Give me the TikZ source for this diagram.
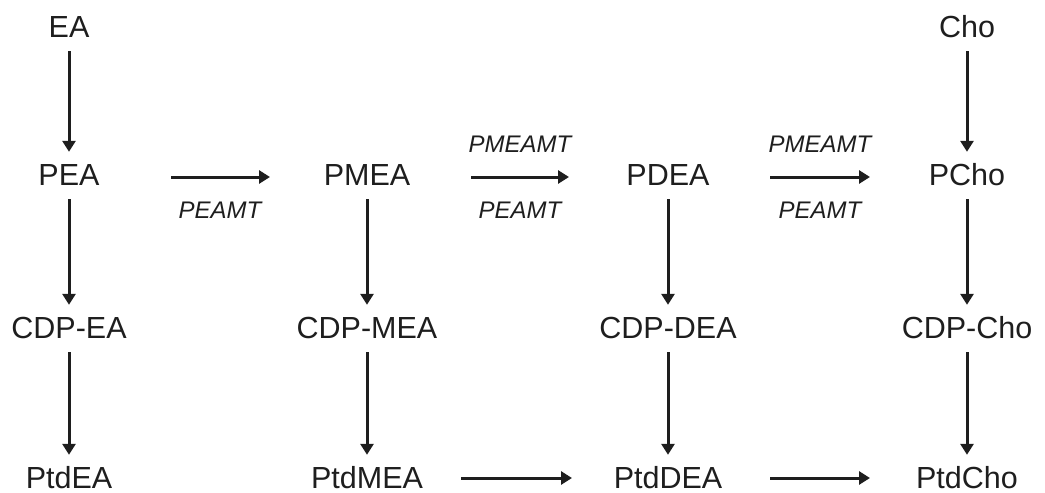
\documentclass[tikz,border=0pt]{standalone}
\usepackage{fontspec}
\setmainfont{Liberation Sans}
\usetikzlibrary{arrows.meta}
\definecolor{ink}{HTML}{1E1E1E}
\tikzset{
  x=1pt, y=-1pt,
  met/.style={anchor=base, inner xsep=0pt, inner ysep=11pt, text height=22pt, text depth=0pt,
              font=\fontsize{30.5}{36}\selectfont, text=ink},
  lab/.style={anchor=base, inner sep=0pt, font=\fontsize{24}{28}\selectfont\itshape, text=ink},
  arr/.style={draw=ink, line width=3pt, -{Triangle[length=11pt,width=13pt]}},
  varr/.style={arr, shorten <=3pt},
  harr/.style={arr, shorten <=102pt, shorten >=97pt},
}
\begin{document}
\begin{tikzpicture}
\useasboundingbox (0,0) rectangle (1045,493);
% nodes
\node[met] (EA)     at (69,37)   {EA};
\node[met] (PEA)    at (69,185)  {PEA};
\node[met] (CDPEA)  at (69,338)  {CDP-EA};
\node[met] (PtdEA)  at (69,488)  {PtdEA};
\node[met] (PMEA)   at (367,185) {PMEA};
\node[met] (CDPMEA) at (367,338) {CDP-MEA};
\node[met] (PtdMEA) at (367,488) {PtdMEA};
\node[met] (PDEA)   at (668,185) {PDEA};
\node[met] (CDPDEA) at (668,338) {CDP-DEA};
\node[met] (PtdDEA) at (668,488) {PtdDEA};
\node[met] (Cho)    at (967,37)  {Cho};
\node[met] (PCho)   at (967,185) {PCho};
\node[met] (CDPCho) at (967,338) {CDP-Cho};
\node[met] (PtdCho) at (967,488) {PtdCho};
% enzyme labels
\node[lab] (l1b) at (220,218) {PEAMT};
\node[lab] (l2a) at (520,152) {PMEAMT};
\node[lab] (l2b) at (520,218) {PEAMT};
\node[lab] (l3a) at (820,152) {PMEAMT};
\node[lab] (l3b) at (820,218) {PEAMT};
% vertical arrows
\draw[varr] (EA.south) -- (PEA.north);
\draw[varr] (PEA.south) -- (CDPEA.north);
\draw[varr] (CDPEA.south) -- (PtdEA.north);
\draw[varr] (PMEA.south) -- (CDPMEA.north);
\draw[varr] (CDPMEA.south) -- (PtdMEA.north);
\draw[varr] (PDEA.south) -- (CDPDEA.north);
\draw[varr] (CDPDEA.south) -- (PtdDEA.north);
\draw[varr] (Cho.south) -- (PCho.north);
\draw[varr] (PCho.south) -- (CDPCho.north);
\draw[varr] (CDPCho.south) -- (PtdCho.north);
% horizontal arrows
\draw[harr] ([yshift=-3pt]PEA.center) -- ([yshift=-3pt]PMEA.center);
\draw[harr, shorten <=104pt, shorten >=99pt] ([yshift=-3pt]PMEA.center) -- ([yshift=-3pt]PDEA.center);
\draw[harr] ([yshift=-3pt]PDEA.center) -- ([yshift=-3pt]PCho.center);
\draw[harr, shorten <=94pt, shorten >=96pt] ([yshift=-1pt]PtdMEA.center) -- ([yshift=-1pt]PtdDEA.center);
\draw[harr] ([yshift=-1pt]PtdDEA.center) -- ([yshift=-1pt]PtdCho.center);
\end{tikzpicture}
\end{document}
